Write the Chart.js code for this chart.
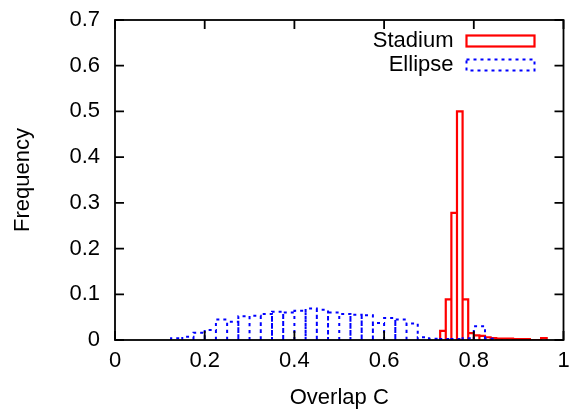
<!DOCTYPE html>
<html>
<head>
<meta charset="utf-8">
<script src="https://cdn.jsdelivr.net/npm/chart.js@4.4.1/dist/chart.umd.min.js"></script>
<style>
html,body{margin:0;padding:0;background:#fff;}
#wrap{width:569px;height:409px;position:relative;}
</style>
</head>
<body>
<div id="wrap"><canvas id="c"></canvas></div>
<script>
// ---- data ----
const seriesLabels = ['Stadium', 'Ellipse'];
const xTitle = 'Overlap C';
const yTitle = 'Frequency';

const stadiumBins = [0.73125, 0.74375, 0.75625, 0.76875, 0.78125, 0.79375, 0.80625, 0.81875,
                     0.83125, 0.84375, 0.85625, 0.86875, 0.88125, 0.89375, 0.90625, 0.91875,
                     0.93125, 0.94375, 0.95625];
const stadiumFreq = [0.020, 0.089, 0.278, 0.500, 0.089, 0.015, 0.010, 0.009,
                     0.006, 0.004, 0.003, 0.003, 0.003, 0.002, 0.002, 0.002,
                     0.000, 0.000, 0.004];
const stadiumWidth = 0.0125;

const ellipseBins = [0.1375, 0.1625, 0.1875, 0.2125, 0.2375, 0.2625, 0.2875,
                     0.3125, 0.3375, 0.3625, 0.3875, 0.4125, 0.4375, 0.4625, 0.4875,
                     0.5125, 0.5375, 0.5625, 0.5875, 0.6125, 0.6375, 0.6625, 0.6875,
                     0.7125, 0.7375, 0.7625, 0.7875, 0.8125, 0.8375];
const ellipseFreq = [0.004, 0.007, 0.016, 0.022, 0.045, 0.040, 0.052,
                     0.053, 0.057, 0.062, 0.060, 0.064, 0.069, 0.066, 0.060,
                     0.057, 0.055, 0.054, 0.037, 0.048, 0.045, 0.036, 0.006,
                     0.003, 0.002, 0.002, 0.004, 0.030, 0.003];
const ellipseWidth = 0.025;

const xTicks = [0, 0.2, 0.4, 0.6, 0.8, 1];
const yTicks = [0, 0.1, 0.2, 0.3, 0.4, 0.5, 0.6, 0.7];

// ---- build box outlines (one closed sub-path per bin) from the data ----
function boxes(bins, freq, width) {
  const pts = [];
  bins.forEach((c, i) => {
    const l = c - width / 2, r = c + width / 2, v = freq[i];
    pts.push({x: l, y: 0}, {x: l, y: v}, {x: r, y: v}, {x: r, y: 0}, {x: r, y: null});
  });
  return pts;
}

const FONT = "'Liberation Sans', Arial, Helvetica, sans-serif";
const FS = 22;
Chart.defaults.font.family = FONT;
Chart.defaults.font.size = FS;
Chart.defaults.color = '#000';

const RED = '#ff0000', BLUE = '#0000ff';
const BLUE_DASH = [3, 4];

const framePlugin = {
  id: 'frame',
  afterDatasetsDraw(chart) {
    const {ctx, chartArea: a, scales: {x, y}} = chart;
    ctx.save();
    ctx.strokeStyle = '#000';
    ctx.lineWidth = 1.8;
    ctx.strokeRect(a.left, a.top, a.right - a.left, a.bottom - a.top);
    const tl = 9;
    ctx.beginPath();
    yTicks.forEach(v => {
      const p = y.getPixelForValue(v);
      ctx.moveTo(a.left, p); ctx.lineTo(a.left + tl, p);
      ctx.moveTo(a.right, p); ctx.lineTo(a.right - tl, p);
    });
    xTicks.forEach(v => {
      const p = x.getPixelForValue(v);
      ctx.moveTo(p, a.bottom); ctx.lineTo(p, a.bottom - tl);
      ctx.moveTo(p, a.top); ctx.lineTo(p, a.top + tl);
    });
    ctx.stroke();

    // key (gnuplot style: text then sample box, top right)
    const ds = chart.data.datasets;
    const textRight = a.right - 110;
    const boxL = a.right - 97, boxR = a.right - 29;
    const rows = [a.top + 21, a.top + 45];
    ctx.font = FS + 'px ' + FONT;
    ctx.fillStyle = '#000';
    ctx.textAlign = 'right';
    ctx.textBaseline = 'middle';
    ds.forEach((d, i) => {
      const yy = rows[i];
      ctx.fillText(d.label, textRight, yy);
      ctx.save();
      ctx.strokeStyle = d.borderColor;
      ctx.lineWidth = d.borderWidth;
      ctx.setLineDash(d.borderDash || []);
      ctx.strokeRect(boxL, yy - 5.5, boxR - boxL, 11);
      ctx.restore();
    });
    ctx.restore();
  }
};

new Chart(document.getElementById('c'), {
  type: 'scatter',
  data: {
    datasets: [
      {
        label: seriesLabels[0],
        data: boxes(stadiumBins, stadiumFreq, stadiumWidth),
        showLine: true, borderColor: RED, borderWidth: 2.2,
        pointRadius: 0, pointHoverRadius: 0, fill: false, tension: 0,
        spanGaps: false, order: 1
      },
      {
        label: seriesLabels[1],
        data: boxes(ellipseBins, ellipseFreq, ellipseWidth),
        showLine: true, borderColor: BLUE, borderWidth: 2, borderDash: BLUE_DASH,
        pointRadius: 0, pointHoverRadius: 0, fill: false, tension: 0,
        spanGaps: false, order: 0
      }
    ]
  },
  options: {
    responsive: true,
    maintainAspectRatio: false,
    animation: false,
    events: [],
    layout: {padding: {left: 0, right: 5.5, top: 20, bottom: 0}},
    plugins: {legend: {display: false}, tooltip: {enabled: false}},
    scales: {
      x: {
        type: 'linear', min: 0, max: 1,
        grid: {display: false, drawTicks: false},
        border: {display: false},
        afterBuildTicks: s => { s.ticks = xTicks.map(v => ({value: v})); },
        ticks: {padding: 8, maxRotation: 0, autoSkip: false,
                callback: v => String(Number(v.toFixed(1)))},
        title: {display: true, text: xTitle, padding: {top: 0, bottom: 0},
                font: {size: FS, lineHeight: 1}},
        afterFit: s => { s.height = 69; s.paddingLeft = 0; s.paddingRight = 0; }
      },
      y: {
        type: 'linear', min: 0, max: 0.7,
        grid: {display: false, drawTicks: false},
        border: {display: false},
        afterBuildTicks: s => { s.ticks = yTicks.map(v => ({value: v})); },
        ticks: {padding: 15, autoSkip: false,
                callback: v => (v === 0 ? '0' : v.toFixed(1))},
        title: {display: true, text: yTitle, padding: {top: 12, bottom: 0},
                font: {size: FS, lineHeight: 1}},
        afterFit: s => { s.width = 115; s.paddingTop = 0; s.paddingBottom = 0; }
      }
    }
  },
  plugins: [framePlugin]
});
</script>
</body>
</html>
